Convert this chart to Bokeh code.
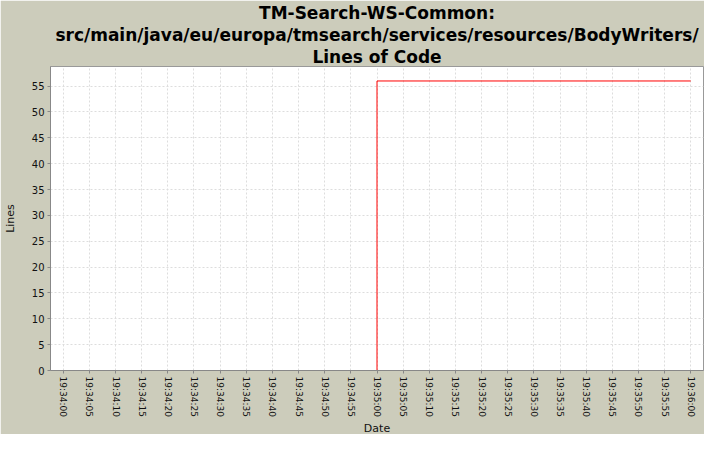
import pandas as pd
from bokeh.plotting import figure
from bokeh.models import FixedTicker, DatetimeTickFormatter, Range1d, Title
from bokeh.embed import file_html
from bokeh.resources import INLINE

day = "2000-01-01 "
times = ["19:34:00", "19:35:00", "19:36:00"]
lines = [0, 56, 56]
tick_times = ["19:34:00", "19:34:05", "19:34:10", "19:34:15", "19:34:20", "19:34:25",
              "19:34:30", "19:34:35", "19:34:40", "19:34:45", "19:34:50", "19:34:55",
              "19:35:00", "19:35:05", "19:35:10", "19:35:15", "19:35:20", "19:35:25",
              "19:35:30", "19:35:35", "19:35:40", "19:35:45", "19:35:50", "19:35:55",
              "19:36:00"]
y_ticks = [0, 5, 10, 15, 20, 25, 30, 35, 40, 45, 50, 55]
title_lines = ["TM-Search-WS-Common:",
               "src/main/java/eu/europa/tmsearch/services/resources/BodyWriters/",
               "Lines of Code"]
x_label = "Date"
y_label = "Lines"

x = pd.to_datetime([day + t for t in times])
tk = pd.to_datetime([day + t for t in tick_times])
tick_ms = [t.value / 1e6 for t in tk]

bg = "#CCCCBB"
pad = 2440  # ms
p = figure(width=704, height=434, output_backend="svg", toolbar_location=None,
           x_axis_type="datetime",
           x_range=Range1d(tick_ms[0] - pad, tick_ms[-1] + pad),
           y_range=Range1d(0, 58.8),
           background_fill_color="white", border_fill_color=bg,
           min_border_left=0, min_border_right=1, min_border_top=0, min_border_bottom=0)

for t in reversed(title_lines):
    p.add_layout(Title(text=t, align="center", text_font="DejaVu Sans",
                       text_font_style="bold", text_font_size="17px",
                       text_color="black", standoff=0, offset=0), "above")
p.title.visible = False
p.add_layout(Title(text=x_label, align="center", text_font="DejaVu Sans",
                   text_font_style="normal", text_font_size="11px",
                   text_color="#111111", standoff=0, offset=0), "below")

p.step(x, lines, mode="after", line_color="red", line_width=1)

p.outline_line_color = "#999999"
p.xaxis.ticker = FixedTicker(ticks=tick_ms)
fmt = "%H:%M:%S"
p.xaxis.formatter = DatetimeTickFormatter(seconds=fmt, minsec=fmt, minutes=fmt,
                                          hourmin=fmt, hours=fmt, milliseconds=fmt)
p.xaxis.major_label_orientation = "vertical"
p.yaxis.ticker = FixedTicker(ticks=y_ticks)
p.yaxis.axis_label = y_label
for ax in (p.xaxis, p.yaxis):
    ax.axis_line_color = "#888888"
    ax.major_tick_line_color = "#888888"
    ax.major_tick_out = 3
    ax.major_tick_in = 0
    ax.minor_tick_line_color = None
    ax.major_label_text_font = "DejaVu Sans"
    ax.major_label_text_color = "#111111"
    ax.axis_label_text_font = "DejaVu Sans"
    ax.axis_label_text_font_style = "normal"
    ax.axis_label_text_color = "#111111"
p.xaxis.major_label_standoff = 3
p.yaxis.major_label_standoff = 3
p.xaxis.major_label_text_font_size = "9px"
p.yaxis.major_label_text_font_size = "10px"
p.yaxis.axis_label_text_font_size = "11px"
p.yaxis.axis_label_standoff = 12
p.grid.grid_line_color = "#DDDDDD"
p.grid.grid_line_dash = "2 2"

open("out.html", "w").write(file_html(p, INLINE))
